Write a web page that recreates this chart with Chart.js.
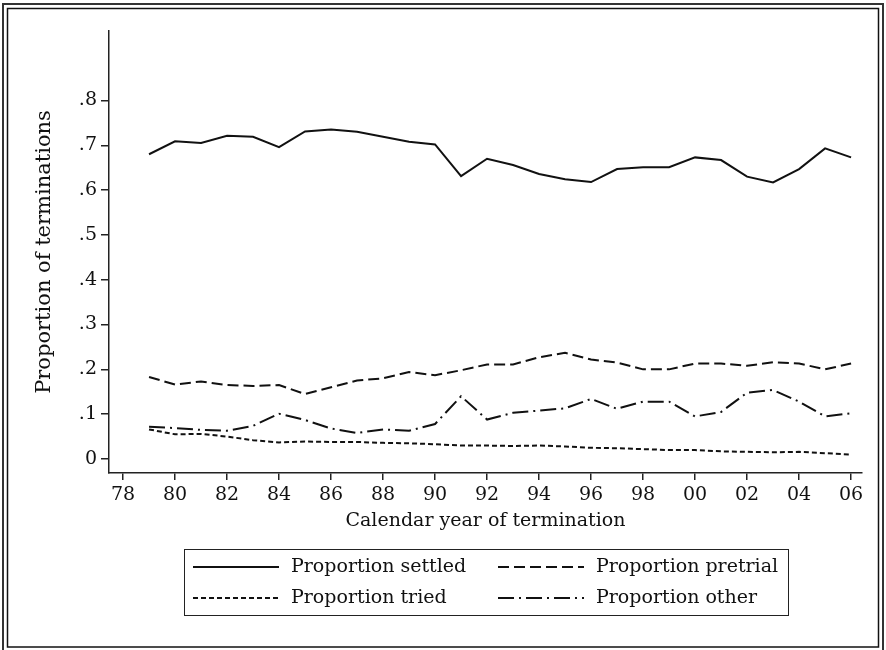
<!DOCTYPE html>
<html lang="en">
<head>
    <meta charset="UTF-8">
    <title>Proportion of terminations</title>
    <script src="https://cdn.jsdelivr.net/npm/chart.js"></script>
    <style>
        body { margin: 0; background: #fff; }
        #wrap { width: 886px; height: 650px; }
    </style>
</head>
<body>
    <div id="wrap">
        <canvas id="termChart" width="886" height="650"></canvas>
    </div>

    <script>
        // data
        const years = [1979, 1980, 1981, 1982, 1983, 1984, 1985, 1986, 1987, 1988, 1989, 1990, 1991, 1992,
                       1993, 1994, 1995, 1996, 1997, 1998, 1999, 2000, 2001, 2002, 2003, 2004, 2005, 2006];
        const settled  = [.680, .709, .705, .721, .719, .696, .731, .735, .730, .719, .708, .702, .631, .670,
                          .656, .636, .624, .618, .647, .651, .651, .673, .667, .630, .617, .647, .693, .673];
        const pretrial = [.183, .166, .173, .165, .163, .165, .145, .160, .175, .180, .194, .187, .198, .211,
                          .211, .227, .237, .222, .215, .200, .200, .213, .213, .208, .216, .213, .200, .213];
        const tried    = [.066, .055, .056, .050, .042, .037, .039, .038, .038, .036, .035, .033, .030, .030,
                          .029, .030, .028, .025, .024, .022, .020, .020, .017, .016, .015, .016, .013, .010];
        const other    = [.072, .069, .065, .063, .074, .101, .087, .068, .058, .066, .063, .078, .140, .088,
                          .103, .108, .113, .134, .112, .128, .128, .095, .105, .148, .154, .128, .095, .102];

        const xTicks = [1978, 1980, 1982, 1984, 1986, 1988, 1990, 1992, 1994, 1996, 1998, 2000, 2002, 2004, 2006];
        const xTickLabels = ['78', '80', '82', '84', '86', '88', '90', '92', '94', '96', '98', '00', '02', '04', '06'];
        const yTicks = [0, .1, .2, .3, .4, .5, .6, .7, .8];
        const yTickLabels = ['0', '.1', '.2', '.3', '.4', '.5', '.6', '.7', '.8'];

        const FONT = 'DejaVu Serif';
        const INK = '#111';

        function pts(arr) {
            return years.map((yr, i) => ({ x: yr, y: arr[i] }));
        }

        // stata style double frame around the whole graph
        const framePlugin = {
            id: 'frame',
            beforeDraw(chart) {
                const c = chart.ctx;
                c.save();
                c.fillStyle = '#fff';
                c.fillRect(0, 0, chart.width, chart.height);
                c.strokeStyle = '#333';
                c.lineWidth = 2;
                c.strokeRect(3, 4, chart.width - 6, chart.height + 2);
                c.strokeStyle = '#111';
                c.lineWidth = 1.5;
                c.strokeRect(7.5, 8.5, chart.width - 15, chart.height - 11.5);
                c.restore();
            }
        };

        // boxed legend, 2 columns x 2 rows
        const legendBox = {
            id: 'legendBox',
            afterDraw(chart) {
                const c = chart.ctx;
                const ds = chart.data.datasets;
                const cols = [193, 498];
                const rows = [567, 598];
                c.save();
                c.strokeStyle = '#222';
                c.lineWidth = 1;
                c.strokeRect(184.5, 549.5, 604, 66);
                c.font = '19px "' + FONT + '"';
                c.textBaseline = 'middle';
                c.fillStyle = INK;
                ds.forEach((d, i) => {
                    const x = cols[i % 2];
                    const y = rows[Math.floor(i / 2)];
                    c.strokeStyle = d.borderColor;
                    c.lineWidth = 2;
                    c.setLineDash(d.borderDash || []);
                    c.beginPath();
                    c.moveTo(x, y);
                    c.lineTo(x + 86, y);
                    c.stroke();
                    c.setLineDash([]);
                    c.fillText(d.label, x + 98, y);
                });
                c.restore();
            }
        };

        const ctx = document.getElementById('termChart').getContext('2d');
        const termChart = new Chart(ctx, {
            type: 'line',
            data: {
                datasets: [
                    { label: 'Proportion settled', data: pts(settled), borderColor: INK, borderWidth: 2, borderDash: [] },
                    { label: 'Proportion pretrial', data: pts(pretrial), borderColor: INK, borderWidth: 2, borderDash: [11, 5] },
                    { label: 'Proportion tried', data: pts(tried), borderColor: INK, borderWidth: 2, borderDash: [5, 3] },
                    { label: 'Proportion other', data: pts(other), borderColor: INK, borderWidth: 2, borderDash: [16, 5, 2, 5] }
                ]
            },
            options: {
                responsive: false,
                animation: false,
                devicePixelRatio: 1,
                layout: { padding: { left: 0, top: 31, right: 24, bottom: 113 } },
                elements: {
                    point: { radius: 0 },
                    line: { tension: 0, borderCapStyle: 'butt', borderJoinStyle: 'miter' }
                },
                plugins: {
                    legend: { display: false },
                    tooltip: { enabled: false }
                },
                scales: {
                    x: {
                        type: 'linear',
                        min: 1977.46,
                        max: 2006.42,
                        afterBuildTicks: s => { s.ticks = xTicks.map(v => ({ value: v })); },
                        afterFit: s => { s.height = 64; },
                        ticks: {
                            autoSkip: false,
                            maxRotation: 0,
                            padding: 4,
                            color: INK,
                            font: { family: FONT, size: 19 },
                            callback: v => xTickLabels[xTicks.indexOf(v)]
                        },
                        grid: { drawOnChartArea: false, tickLength: 7, color: '#222', lineWidth: 1.5 },
                        border: { display: true, color: '#222', width: 1.5 },
                        title: {
                            display: true,
                            text: 'Calendar year of termination',
                            color: INK,
                            font: { family: FONT, size: 19 },
                            padding: { bottom: 5 }
                        }
                    },
                    y: {
                        min: -0.03125,
                        max: 0.955,
                        afterBuildTicks: s => { s.ticks = yTicks.map(v => ({ value: v })); },
                        afterFit: s => { s.width = 109; },
                        ticks: {
                            padding: 4,
                            color: INK,
                            font: { family: FONT, size: 19 },
                            callback: v => yTickLabels[yTicks.indexOf(v)]
                        },
                        grid: { drawOnChartArea: false, tickLength: 8, color: '#222', lineWidth: 1.5 },
                        border: { display: true, color: '#222', width: 1.5 },
                        title: {
                            display: true,
                            text: 'Proportion of terminations',
                            color: INK,
                            font: { family: FONT, size: 21 },
                            padding: { top: 32 }
                        }
                    }
                }
            },
            plugins: [framePlugin, legendBox]
        });
    </script>
</body>
</html>
